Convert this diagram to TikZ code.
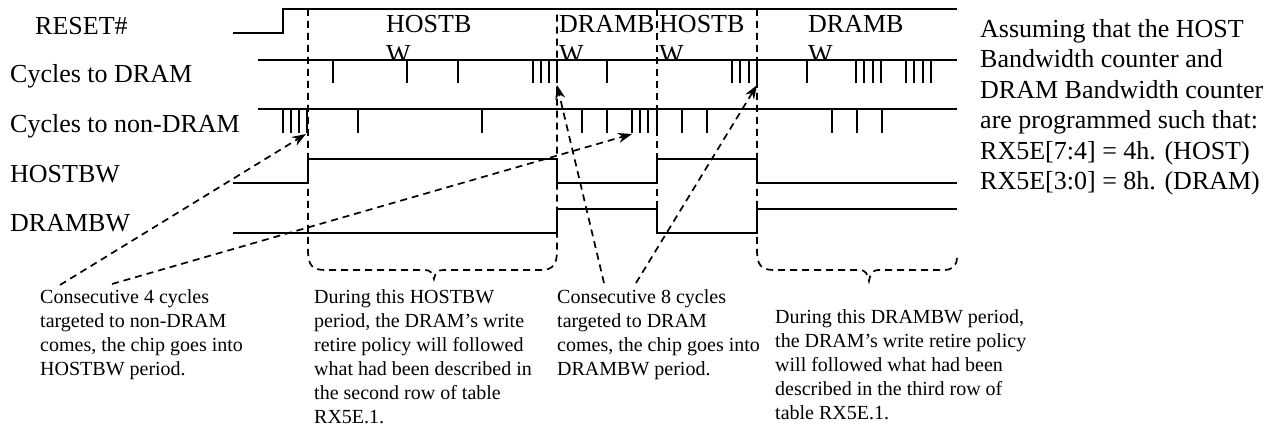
\documentclass[tikz,border=0pt]{standalone}
\usepackage{fontspec}
\setmainfont{Liberation Serif}
\usetikzlibrary{arrows.meta}
\begin{document}
\begin{tikzpicture}[x=1pt,y=-1pt,
  sig/.style={line width=1.8pt, line join=miter},
  cyc/.style={line width=1.8pt},
  guide/.style={line width=1.7pt, dash pattern=on 7pt off 5pt},
  pointer/.style={guide, -{Stealth[length=14pt,width=10pt]}},
  lbl/.style={font=\fontsize{26}{30}\selectfont, inner sep=0pt, anchor=base west},
  phase/.style={font=\fontsize{26}{30}\selectfont, inner sep=0pt, anchor=north west, align=left},
  note/.style={font=\fontsize{26}{30.5}\selectfont, inner sep=0pt, anchor=north west, align=left},
  small/.style={font=\fontsize{20}{24}\selectfont, inner sep=0pt, anchor=north west, align=left}]

\useasboundingbox (0,0) rectangle (1277,430);

% signal names
\node[lbl] (reset)  at (35,35)  {RESET\#};
\node[lbl] (cdram)  at (10,83)  {Cycles to DRAM};
\node[lbl] (cnon)   at (10,133) {Cycles to non-DRAM};
\node[lbl] (hostbw) at (10,183) {HOSTBW};
\node[lbl] (drambw) at (10,232) {DRAMBW};

% period names in the reset row (second line hidden under the cycle row)
\begin{scope}
  \clip (230,0) rectangle (960,59);
  \node[phase] (p1) at (386,15.5) {HOSTB\\W};
  \node[phase] (p2) at (559,15.5) {DRAMB\\W};
  \node[phase] (p3) at (659,15.5) {HOSTB\\W};
  \node[phase] (p4) at (808,15.5) {DRAMB\\W};
\end{scope}

% waveforms
\draw[sig] (233,33) -- (283,33) -- (283,9) -- (957,9);
\draw[sig] (258,60) -- (957,60);
\draw[sig] (258,109) -- (957,109);
\draw[sig] (233,183) -- (308,183) -- (308,159) -- (557,159) -- (557,183)
  -- (657,183) -- (657,159) -- (757,159) -- (757,183) -- (957,183);
\draw[sig] (233,233) -- (557,233) -- (557,209) -- (657,209) -- (657,233)
  -- (757,233) -- (757,209) -- (957,209);

% cycles to DRAM
\foreach \x in {333,407,458,533,541,549,557,607,732,740,749,757,807,856,864,873,881,906,914,923,931}
  \draw[cyc] (\x,60) -- (\x,83);
% cycles to non-DRAM
\foreach \x in {283,291,299,307,358,482,582,607,632,640,648,657,682,707,832,857,882}
  \draw[cyc] (\x,109) -- (\x,133);

% period boundaries and braces
\draw[guide] (308,9) -- (308,250) .. controls (308,265) and (312,270) .. (325,270)
  -- (425,270) .. controls (430,270) and (433,273) .. (434,279)
  .. controls (435,273) and (438,270) .. (443,270) -- (540,270)
  .. controls (553,270) and (557,265) .. (557,250) -- (557,9);
\draw[guide] (657,9) -- (657,233);
\draw[guide] (757,9) -- (757,250) .. controls (757,265) and (761,270) .. (774,270)
  -- (860,270) .. controls (865,270) and (868,274) .. (869,281)
  .. controls (870,274) and (873,270) .. (878,270) -- (944,270)
  .. controls (952,270) and (957,266) .. (957,257);

% explanations
\node[note] (assume) at (980,19) {Assuming that the HOST\\Bandwidth counter and\\DRAM Bandwidth counter\\are programmed such that:\\RX5E[7:4] = 4h. (HOST)\\RX5E[3:0] = 8h. (DRAM)};

\node[small] (txtA) at (40,289) {Consecutive 4 cycles\\targeted to non-DRAM\\comes, the chip goes into\\HOSTBW period.};
\node[small] (txtB) at (314,289) {During this HOSTBW\\period, the DRAM’s write\\retire policy will followed\\what had been described in\\the second row of table\\RX5E.1.};
\node[small] (txtC) at (557,289) {Consecutive 8 cycles\\targeted to DRAM\\comes, the chip goes into\\DRAMBW period.};
\node[small] (txtD) at (775,309) {During this DRAMBW period,\\the DRAM’s write retire policy\\will followed what had been\\described in the third row of\\table RX5E.1.};

% pointers from the explanations to the triggering cycles
\coordinate (a1) at (60,285);
\coordinate (a2) at (112,284);
\coordinate (c1) at (604,283);
\coordinate (c2) at (636,283);
\coordinate (hostgo) at (306,134);
\coordinate (hostback) at (632,134);
\coordinate (dramgo) at (557,85);
\coordinate (dramback) at (757,85);
\draw[pointer] (a1) -- (hostgo);
\draw[pointer] (a2) -- (hostback);
\draw[pointer] (c1) -- (dramgo);
\draw[pointer] (c2) -- (dramback);
\end{tikzpicture}
\end{document}
